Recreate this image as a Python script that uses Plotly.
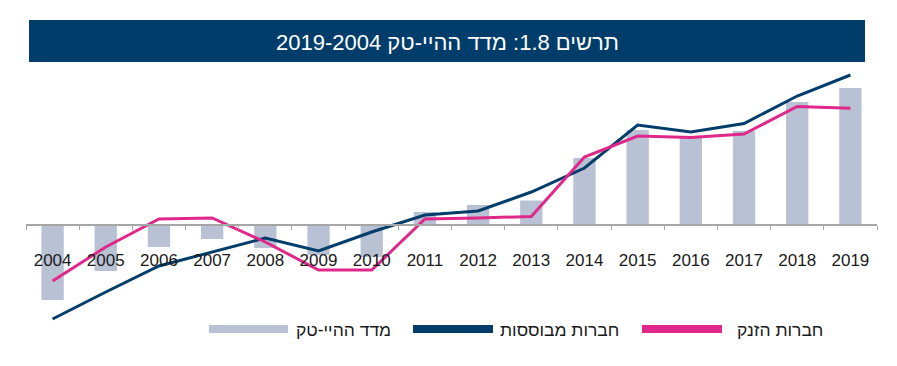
import plotly.graph_objects as go

# ---- data ----
years = [str(y) for y in range(2004, 2020)]
hitech_index = [-75, -46, -22, -14, -23, -30, -32, 13, 20, 24.5, 67, 95, 88, 94, 123, 137]
established = [-94, -67, -41, -27, -13, -26, -7, 10, 14, 33, 57, 100, 93, 101.5, 129, 150]
startups = [-56, -22, 6, 7, -17, -45, -45, 6, 7, 8.5, 68, 89, 87.5, 91, 118.5, 116.7]

name_index = "מדד ההיי-טק"
name_est = "חברות מבוססות"
name_start = "חברות הזנק"
title_text = "תרשים 1.8: מדד ההיי-טק 2019-2004"

C_BAR = "#b9c1d4"
C_NAVY = "#003d6b"
C_PINK = "#e0288b"
C_AXIS = "#a6a6a6"
FONT = "Liberation Sans, Arial, sans-serif"

OFF = 8  # default page body margin
W, H = 897 - OFF, 366 - OFF
ML, MR, MT, MB = 26 - OFF, 20, 66 - OFF, 40
YMIN, YMAX = -101, 159

def px_x(x):
    return (x - OFF - ML) / (W - ML - MR)

def px_y(y):
    return (H - MB - (y - OFF)) / (H - MT - MB)

fig = go.Figure()
fig.add_trace(go.Bar(x=years, y=hitech_index, marker=dict(color=C_BAR, line=dict(width=0)),
                     width=0.42, xaxis="x", yaxis="y", showlegend=False, name=name_index))
fig.add_trace(go.Scatter(x=years, y=established, mode="lines", line=dict(color=C_NAVY, width=3),
                         xaxis="x2", yaxis="y", showlegend=False, name=name_est))
fig.add_trace(go.Scatter(x=years, y=startups, mode="lines", line=dict(color=C_PINK, width=3),
                         xaxis="x2", yaxis="y", showlegend=False, name=name_start))

zero_pos = (0 - YMIN) / (YMAX - YMIN)

fig.update_layout(
    width=W, height=H,
    margin=dict(l=ML, r=MR, t=MT, b=MB),
    paper_bgcolor="white", plot_bgcolor="white",
    font=dict(family=FONT, color="#1a1a1a"),
    xaxis=dict(type="category", categoryorder="array", categoryarray=years,
               range=[-0.5, 15.5], anchor="free", position=zero_pos,
               showline=True, linecolor=C_AXIS, linewidth=1.5,
               ticks="outside", ticklen=4, tickcolor=C_AXIS, tickwidth=1,
               tickson="boundaries", showticklabels=False, showgrid=False, zeroline=False),
    xaxis2=dict(type="category", categoryorder="array", categoryarray=years,
                range=[-0.5, 15.5], overlaying="x", anchor="free", position=px_y(248),
                showline=False, ticks="", showgrid=False, zeroline=False,
                tickfont=dict(size=17, family=FONT, color="#1a1a1a")),
    yaxis=dict(range=[YMIN, YMAX], visible=False, showgrid=False, zeroline=False),
    showlegend=False,
)

# title band
fig.add_shape(type="rect", xref="paper", yref="paper",
              x0=px_x(29), x1=px_x(865), y0=px_y(62), y1=px_y(20),
              fillcolor=C_NAVY, line=dict(width=0), layer="below")
fig.add_annotation(xref="paper", yref="paper", x=px_x(447), y=px_y(42),
                   text="\u202b" + title_text + "\u202c", showarrow=False,
                   xanchor="center", yanchor="middle",
                   font=dict(size=22, color="white", family=FONT))

# legend (manual, to match wide swatches)
legend_items = [
    (name_index, C_BAR, 209, 288, 393),
    (name_est, C_NAVY, 413, 493, 621),
    (name_start, C_PINK, 642, 722, 825),
]
for label, col, sx0, sx1, tx1 in legend_items:
    fig.add_shape(type="rect", xref="paper", yref="paper",
                  x0=px_x(sx0), x1=px_x(sx1), y0=px_y(333), y1=px_y(325),
                  fillcolor=col, line=dict(width=0))
    fig.add_annotation(xref="paper", yref="paper", x=px_x(tx1), y=px_y(330),
                       text=label, showarrow=False, xanchor="right", yanchor="middle",
                       font=dict(size=17.5, color="#1a1a1a", family=FONT))

fig.write_html("out.html")
